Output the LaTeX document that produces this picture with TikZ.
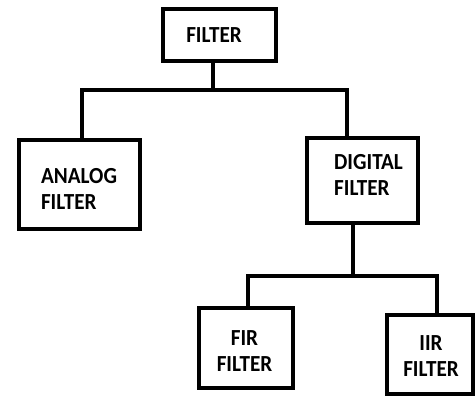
\documentclass[tikz,border=0pt]{standalone}
\usepackage{fontspec}
\setmainfont{Carlito}
\newfontfamily\boxfont[FakeStretch=0.92]{Carlito}
\begin{document}
\begin{tikzpicture}[x=1pt,y=-1pt,
  box/.style={draw,line width=4pt,inner sep=0pt,fill=white},
  txt/.style={inner sep=0pt,font=\boxfont\bfseries\fontsize{23}{26}\selectfont},
  wire/.style={line width=3.6pt,line cap=rect,line join=miter}]
\useasboundingbox (0,0) rectangle (476,396);
% boxes
\node[box,minimum width=113pt,minimum height=52pt] (top) at (219.5,35) {};
\node[box,minimum width=121pt,minimum height=89pt] (ana) at (79.5,184.5) {};
\node[box,minimum width=111pt,minimum height=85pt] (dig) at (362.5,180.5) {};
\node[box,minimum width=94pt,minimum height=80pt] (fir) at (246,348) {};
\node[box,minimum width=86pt,minimum height=79pt] (iir) at (430,354.5) {};
% texts
\node[txt] (ttop) at (214,35) {FILTER};
\node[txt,align=left] (tana) at (79,188.5) {ANALOG\\FILTER};
\node[txt,align=left] (tdig) at (368.5,174.5) {DIGITAL\\FILTER};
\node[txt,align=center] (tfir) at (244.5,351) {FIR\\FILTER};
\node[txt,align=center] (tiir) at (431,356.5) {IIR\\FILTER};
% junctions
\coordinate (j1) at (213,90);
\coordinate (jl) at (82,90);
\coordinate (jr) at (347,90);
\coordinate (j2) at (353,276);
\coordinate (kl) at (248,276);
\coordinate (kr) at (437,276);
% connectors
\draw[wire] (top.south -| j1) -- (j1);
\draw[wire] (jl |- ana.north) -- (jl) -- (jr) -- (jr |- dig.north);
\draw[wire] (dig.south -| j2) -- (j2);
\draw[wire] (kl |- fir.north) -- (kl) -- (kr) -- (kr |- iir.north);
\end{tikzpicture}
\end{document}
